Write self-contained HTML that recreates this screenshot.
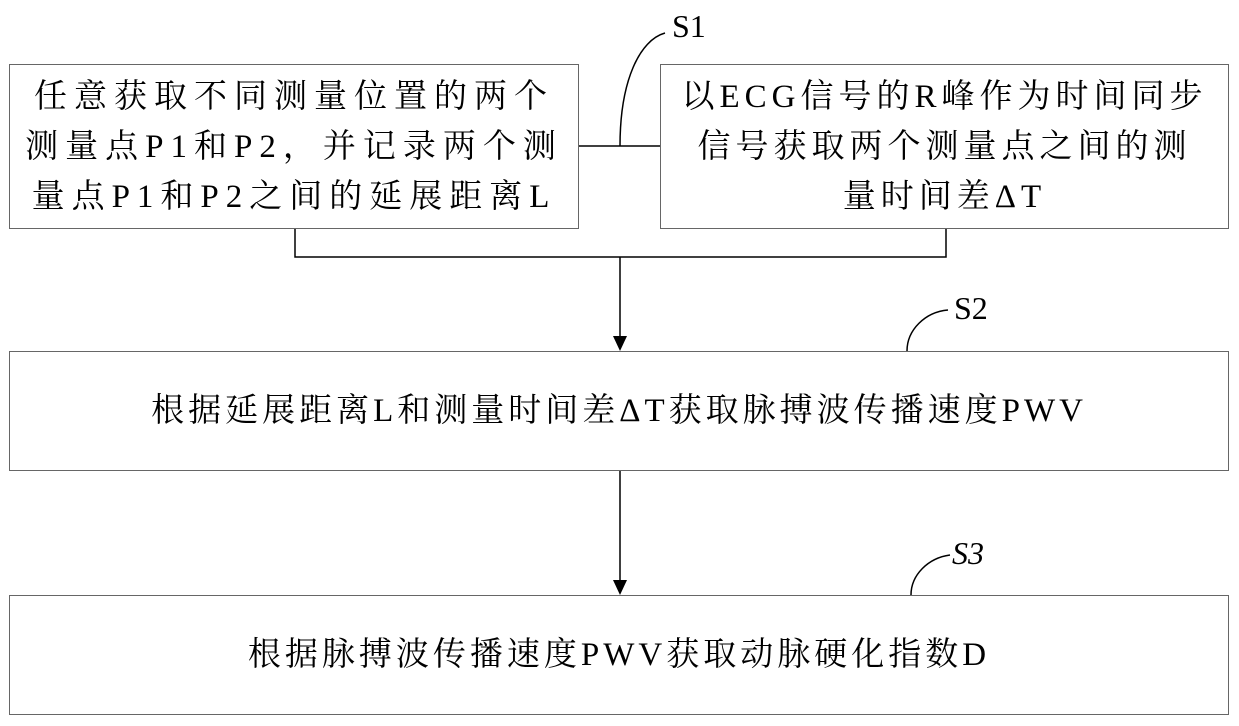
<!DOCTYPE html>
<html><head><meta charset="utf-8"><style>
body{margin:0;width:1239px;height:726px;background:#fff;position:relative;overflow:hidden;font-family:"Liberation Serif","Noto Serif CJK SC",serif;color:#000}
.b{position:absolute;border:1.5px solid #666;box-sizing:border-box;display:flex;align-items:center;justify-content:center;text-align:center;font-size:33px;line-height:50px;white-space:nowrap}
.l{position:absolute;font-size:32px}
</style></head><body>
<div class="b" style="left:9px;top:64px;width:570px;height:165px;letter-spacing:7px">任意获取不同测量位置的两个<br>测量点P1和P2，并记录两个测<br>量点P1和P2之间的延展距离L</div>
<div class="b" style="left:660px;top:64px;width:569px;height:165px;letter-spacing:5px">以ECG信号的R峰作为时间同步<br>信号获取两个测量点之间的测<br>量时间差ΔT</div>
<div class="b" style="left:9px;top:351px;width:1220px;height:120px;letter-spacing:4px">根据延展距离L和测量时间差ΔT获取脉搏波传播速度PWV</div>
<div class="b" style="left:9px;top:595px;width:1220px;height:120px;letter-spacing:4px">根据脉搏波传播速度PWV获取动脉硬化指数D</div>
<svg width="1239" height="726" style="position:absolute;left:0;top:0" fill="none" stroke="#000" stroke-width="1.5">
<path d="M579 146H660"/>
<path d="M620 146C620 80 640 40 665 33"/>
<path d="M295 229V257H946V229"/>
<path d="M620 257V337"/>
<path d="M620 471V582"/>
<path d="M907 351C907 330 925 312 948 310"/>
<path d="M911 595C911 575 928 558 950 555"/>
<polygon points="613,336 627,336 620,351" fill="#000" stroke="none"/>
<polygon points="613,580 627,580 620,595" fill="#000" stroke="none"/>
</svg>
<div class="l" style="left:672px;top:8px">S1</div>
<div class="l" style="left:954px;top:290px">S2</div>
<div class="l" style="left:952px;top:535px;font-style:italic">S3</div>
</body></html>
